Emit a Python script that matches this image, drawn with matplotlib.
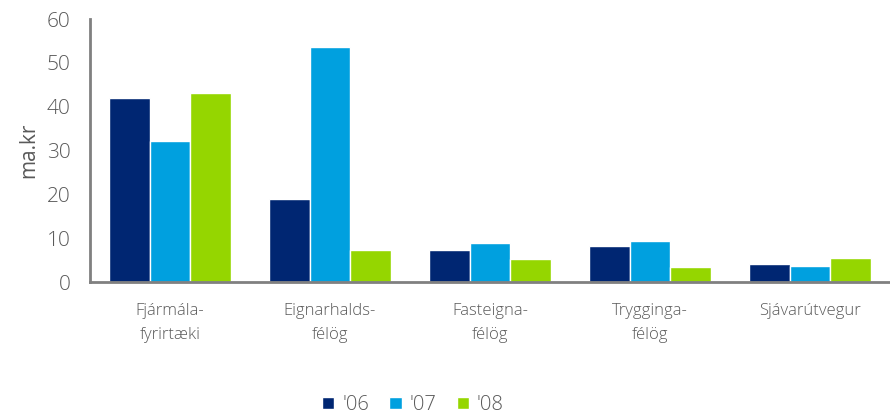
import numpy as np
import matplotlib
matplotlib.use('Agg')
import matplotlib.pyplot as plt

plt.rcParams['font.family'] = ['Open Sans', 'DejaVu Sans']
plt.rcParams['font.weight'] = 'light'

# Data
categories = ['Fjármála-\nfyrirtæki', 'Eignarhalds-\nfélög', 'Fasteigna-\nfélög',
              'Trygginga-\nfélög', 'Sjávarútvegur']
years = ["'06", "'07", "'08"]
vals_06 = [42.0, 18.9, 7.4, 8.2, 4.2]
vals_07 = [32.2, 53.5, 9.0, 9.4, 3.7]
vals_08 = [43.2, 7.2, 5.3, 3.5, 5.4]
colors = ['#002672', '#00A0DF', '#95D600']

grey = '#595959'

fig = plt.figure(figsize=(8.9, 4.19), dpi=100)
ax = fig.add_axes([90 / 890, 1 - 282 / 419, 800 / 890, 263 / 419])

x = np.arange(len(categories))
w = 0.256
for i, (vals, lab) in enumerate(zip([vals_06, vals_07, vals_08], years)):
    ax.bar(x + (i - 1) * w, vals, width=w, color=colors[i], edgecolor='white',
           linewidth=1, label=lab)

ax.set_xlim(-0.5, len(categories) - 0.5)
ax.set_ylim(0, 60)
ax.set_yticks(range(0, 61, 10))
ax.set_xticks(x)
ax.set_xticklabels(categories, fontsize=12, color=grey, linespacing=1.65)
ax.tick_params(axis='y', labelsize=15, colors=grey, length=0, pad=14)
ax.tick_params(axis='x', length=0, pad=15)
ax.set_ylabel('ma.kr', fontsize=15, color=grey, labelpad=5)

for s in ['top', 'right']:
    ax.spines[s].set_visible(False)
for s in ['left', 'bottom']:
    ax.spines[s].set_color('#808080')
    ax.spines[s].set_linewidth(2)

ax.legend(loc='center', bbox_to_anchor=(413 / 890, 1 - 405 / 419),
          bbox_transform=fig.transFigure, ncol=3, frameon=False,
          fontsize=14.5, labelcolor=grey, handlelength=0.6, handleheight=0.6,
          handletextpad=0.4, columnspacing=1.0)

plt.savefig('out.png', dpi=100)
